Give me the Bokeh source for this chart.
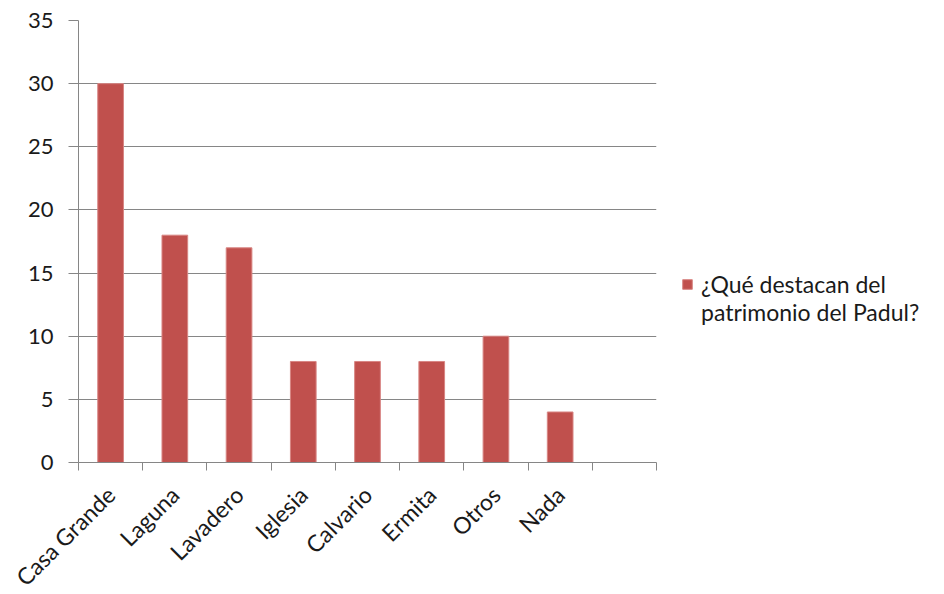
from bokeh.plotting import figure
from bokeh.models import Range1d, FixedTicker, Legend, LegendItem, ColumnDataSource
from bokeh.embed import file_html
from bokeh.resources import INLINE
import math

categories = ["Casa Grande", "Laguna", "Lavadero", "Iglesia", "Calvario", "Ermita", "Otros", "Nada"]
values = [30, 18, 17, 8, 8, 8, 10, 4]
n_slots = 9
y_ticks = [0, 5, 10, 15, 20, 25, 30, 35]
series_lines = ["¿Qué destacan del", "patrimonio del Padul?"]

FONT = "Lato"
GRAY = "#868686"
BAR = "#C0504D"
TXT = "#1a1a1a"

xs = [i + 0.5 for i in range(len(categories))]
src = ColumnDataSource(dict(x=xs, top=values))

p = figure(frame_width=578, frame_height=442, output_backend="svg", toolbar_location=None,
           x_range=Range1d(0, n_slots), y_range=Range1d(0, 35),
           min_border_left=78, min_border_top=20, min_border_bottom=110, min_border_right=10)
p.outline_line_color = None
r = p.vbar(x="x", top="top", width=0.4, source=src, fill_color=BAR, line_color="#D88583", line_width=1)
# invisible renderer used only for the second line of the legend label
r2 = p.vbar(x=[], top=[], width=0.4, fill_alpha=0, line_alpha=0)

p.xaxis.ticker = FixedTicker(ticks=xs, minor_ticks=list(range(n_slots + 1)))
p.xaxis.major_label_overrides = {x: c for x, c in zip(xs, categories)}
p.xaxis.major_label_orientation = math.pi / 4
p.xaxis.major_tick_out = 0
p.xaxis.major_tick_in = 0
p.xaxis.minor_tick_out = 8
p.xaxis.minor_tick_in = 0
p.xaxis.minor_tick_line_color = GRAY
p.xaxis.axis_line_color = GRAY
p.xaxis.major_label_text_font = FONT
p.xaxis.major_label_text_font_size = "23px"
p.xaxis.major_label_text_color = TXT
p.xaxis.major_label_standoff = 20

p.yaxis.ticker = FixedTicker(ticks=y_ticks)
p.yaxis.major_tick_out = 10
p.yaxis.major_tick_in = 0
p.yaxis.minor_tick_line_color = None
p.yaxis.major_tick_line_color = GRAY
p.yaxis.axis_line_color = GRAY
p.yaxis.major_label_text_font = FONT
p.yaxis.major_label_text_font_size = "22px"
p.yaxis.major_label_text_color = TXT
p.yaxis.major_label_standoff = 15

p.xgrid.grid_line_color = None
p.ygrid.grid_line_color = GRAY
p.ygrid.grid_line_width = 1

legend = Legend(items=[LegendItem(label=series_lines[0], renderers=[r]),
                       LegendItem(label=series_lines[1], renderers=[r2])],
                location=(25, 136),
                glyph_width=12, glyph_height=12, label_text_font=FONT, label_text_font_size="23px",
                label_text_color=TXT, border_line_color=None, background_fill_alpha=0,
                padding=0, margin=0, spacing=0, label_standoff=8, label_height=24)
p.add_layout(legend, "right")

open("out.html", "w").write(file_html(p, INLINE))
